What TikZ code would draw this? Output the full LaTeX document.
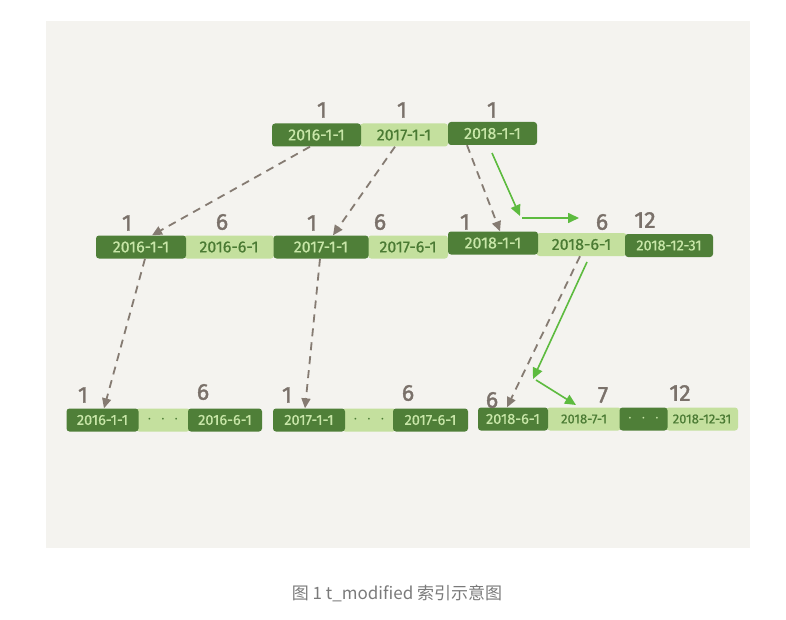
\documentclass[tikz,border=0pt]{standalone}
\usepackage{fontspec}
\setmainfont{Fira Sans}
\newfontfamily\numfont[FakeBold=1.6]{Fira Sans}
\newfontfamily\boxfont[FakeBold=0.6]{Fira Sans}
\newfontfamily\cjk{Noto Sans CJK SC}
\usetikzlibrary{arrows.meta,calc}
\definecolor{bgc}{HTML}{F4F3EF}
\definecolor{dkg}{HTML}{4F7F38}
\definecolor{ltg}{HTML}{C4E09E}
\definecolor{dktext}{HTML}{C8E6A8}
\definecolor{lttext}{HTML}{4A7A33}
\definecolor{numc}{HTML}{7A716A}
\definecolor{dashc}{HTML}{857B72}
\definecolor{grn}{HTML}{5DBB3F}
\definecolor{capc}{HTML}{7A7A7A}
\tikzset{
  box/.style={rounded corners=3pt, inner sep=0pt, minimum height=23pt,
    font=\boxfont\fontsize{16}{16}\selectfont},
  small/.style={font=\boxfont\fontsize{14.5}{14.5}\selectfont},
  tiny/.style={font=\boxfont\fontsize{13}{13}\selectfont},
  dk/.style={box, fill=dkg, text=dktext},
  lt/.style={box, fill=ltg, text=lttext},
  num/.style={text=numc, font=\numfont\fontsize{23}{23}\selectfont, inner sep=0pt},
  ptr/.style={draw=dashc, line width=1.8pt, dash pattern=on 8pt off 6pt,
    -{Triangle[length=10pt,width=9pt]}},
  gar/.style={draw=grn, line width=1.6pt, -{Triangle[length=11pt,width=10pt]}}
}
\newcommand\dotsx{$\cdot\;\cdot\;\cdot$}
\begin{document}
\begin{tikzpicture}[x=1pt,y=-1pt]
\useasboundingbox (0,0) rectangle (786,620);
\fill[bgc] (46,21) rectangle (750,548);
% top row
\node[lt, minimum width=88pt] (t2) at (404,135) {2017-1-1};
\node[dk, minimum width=89pt] (t1) at (316.5,135) {2016-1-1};
\node[dk, minimum width=89pt] (t3) at (492.5,133.5) {2018-1-1};
\node[num] (nt1) at (322,110) {1};
\node[num] (nt2) at (402,110) {1};
\node[num] (nt3) at (492,110) {1};
% middle row
\node[lt, minimum width=90pt] (m2) at (229,247) {2016-6-1};
\node[dk, minimum width=90pt] (m1) at (141,247) {2016-1-1};
\node[lt, minimum width=80pt] (m4) at (408,247) {2017-6-1};
\node[dk, minimum width=95pt] (m3) at (321,247) {2017-1-1};
\node[lt, minimum width=90pt] (m6) at (581.5,244.5) {2018-6-1};
\node[dk, minimum width=90pt] (m5) at (493,243) {2018-1-1};
\node[dk, minimum width=88pt, small] (m7) at (669,245.5) {2018-12-31};
\node[num] (nm1) at (127,223) {1};
\node[num] (nm2) at (222,222) {6};
\node[num] (nm3) at (312,223) {1};
\node[num] (nm4) at (380,222) {6};
\node[num] (nm5) at (465,222) {1};
\node[num] (nm6) at (602,222) {6};
\node[num] (nm7) at (645,220) {12};
% bottom row
\node[lt, minimum width=54pt] (b2) at (163,420) {\dotsx};
\node[dk, minimum width=72pt, small] (b1) at (102.5,420) {2016-1-1};
\node[dk, minimum width=74pt, small] (b3) at (225,420) {2016-6-1};
\node[lt, minimum width=54pt] (b5) at (369,420) {\dotsx};
\node[dk, minimum width=72pt, small] (b4) at (309,420) {2017-1-1};
\node[dk, minimum width=75pt, small] (b6) at (430.5,420) {2017-6-1};
\node[lt, minimum width=74pt, tiny] (b8) at (584,419) {2018-7-1};
\node[lt, minimum width=72pt, tiny] (b10) at (702,419) {2018-12-31};
\node[dk, minimum width=70pt, small] (b7) at (513,419) {2018-6-1};
\node[dk, minimum width=48pt] (b9) at (643.5,419) {\dotsx};
\node[num] (nb1) at (83,395) {1};
\node[num] (nb2) at (203,392) {6};
\node[num] (nb3) at (287,395) {1};
\node[num] (nb4) at (408,393) {6};
\node[num] (nb5) at (492,400) {6};
\node[num] (nb6) at (603,395) {7};
\node[num] (nb7) at (680,393) {12};
% dashed pointers
\draw[ptr] ([xshift=-6.5pt]t1.south) -- ([xshift=11pt]m1.north);
\draw[ptr] ([xshift=-9pt]t2.south) -- ([xshift=12pt]m3.north);
\draw[ptr] ([xshift=-25.5pt]t3.south) -- ([xshift=7pt]m5.north);
\draw[ptr] ([xshift=4pt]m1.south) -- ([xshift=1.5pt]b1.north);
\draw[ptr] ([xshift=-1pt]m3.south) -- ([xshift=-4pt]b4.north);
\draw[ptr] ([xshift=-1.5pt]m6.south) -- ([xshift=-6pt]b7.north);
% green path
\coordinate (g1) at (492,153);
\coordinate (g2) at (520,216);
\coordinate (g3) at (522,218);
\coordinate (g4) at (579,218);
\coordinate (g5) at (587,262);
\coordinate (g6) at (533,379);
\coordinate (g7) at (536,380);
\coordinate (g8) at (576,405);
\draw[gar] (g1) -- (g2);
\draw[gar] (g3) -- (g4);
\draw[gar] (g5) -- (g6);
\draw[gar] (g7) -- (g8);
% caption
\node[text=capc, font=\cjk\fontsize{17}{17}\selectfont] (cap) at (397,593) {图 1 t\_modified 索引示意图};
\end{tikzpicture}
\end{document}
